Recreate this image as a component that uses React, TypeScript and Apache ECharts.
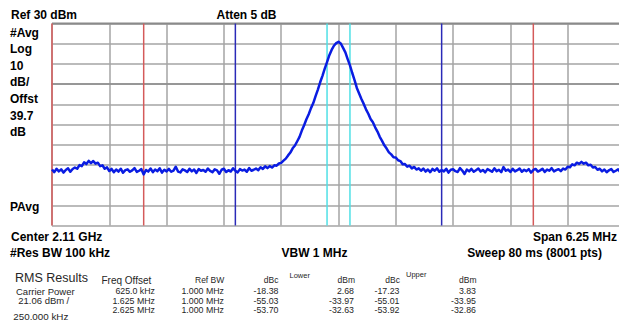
import React, { useEffect, useRef } from "react";
import * as echarts from "echarts";

// ---- Spectrum analyser settings ----
const REF_LEVEL = 30; // dBm (top of screen)
const BOTTOM_LEVEL = -70; // dBm (bottom of screen)
const DB_PER_DIV = 10;
const SPAN_START = -3.125; // MHz offset from centre 2.11 GHz
const SPAN_END = 3.125;
const FREQ_PER_DIV = 0.625;
const F_STEP = 0.025; // MHz between listed trace points

// ---- Trace (dBm), one value per F_STEP from SPAN_START ----
const TRACE_LEVELS = [
  // -3.125 .. -2.9
  -42.3, -43.6, -41.9, -43.2, -42.2, -43.8, -42.5, -41.7, -43.4, -42.0,
  // lower bump
  -41.3, -41.9, -40.1, -40.6, -38.7, -39.6, -38.0, -39.1, -38.1, -39.4,
  -38.9, -40.6, -40.2, -41.9, -41.2, -43.0, -42.0,
  // floor
  -43.6, -42.3, -43.3, -41.9, -43.9, -42.6, -42.2, -43.4, -42.7, -41.6,
  -43.5, -42.9, -42.1, -44.7, -42.5, -43.3, -41.8, -43.6, -42.3, -43.1,
  -41.7, -43.8, -42.4, -43.2, -42.0, -43.4, -42.8, -40.9, -43.3, -43.7,
  -42.2, -42.7, -43.5, -41.9, -43.2, -42.3, -44.0, -42.1, -42.9, -42.5,
  -43.4, -41.8, -43.0, -43.6, -42.2, -42.7, -44.4, -42.4, -41.9, -43.5,
  -42.6, -43.3, -41.7, -42.9, -43.7, -42.1, -42.8, -42.3, -43.4, -41.6,
  -42.9, -42.4,
  // carrier skirt and peak (-0.9 .. +0.9)
  -41.8, -42.6, -41.2, -42.0, -40.7, -41.6, -40.6, -41.3, -40.2, -40.4,
  -39.3, -39.0, -37.9, -36.9, -35.3, -33.9, -31.8, -30.4, -28.3, -26.1,
  -23.0, -20.4, -17.4, -14.9, -11.9, -9.4, -6.0, -2.7, 0.9, 4.1,
  7.7, 10.9, 14.3, 16.9, 19.0, 20.3, 20.9, 20.1, 17.9, 15.7,
  12.4, 9.3, 5.5, 2.0, -1.9, -4.6, -7.4, -9.8, -12.5, -14.7,
  -17.3, -18.9, -21.4, -23.5, -26.1, -28.1, -30.3, -31.9, -33.8, -34.8,
  -36.2, -36.3, -37.7, -38.1, -39.7, -39.6, -40.9, -40.4, -41.7, -41.0,
  -42.3, -41.7, -42.9,
  // floor
  -41.8, -43.3, -42.3, -43.6, -42.0, -42.9, -41.7, -43.4, -42.5, -43.2,
  -41.9, -43.8, -42.4, -42.2, -43.1, -43.5, -41.6, -42.8, -44.5, -42.3,
  -43.2, -42.0, -43.4, -42.6, -41.8, -43.3, -42.5, -43.7, -42.1, -42.7,
  -43.4, -41.7, -43.1, -42.4, -43.6, -41.1, -42.9, -42.3, -43.5, -41.9,
  -43.2, -42.6, -41.8, -43.4, -42.4, -43.1, -42.1, -43.8, -42.5, -42.0,
  -43.3, -42.7, -41.9, -43.5, -42.3, -42.9, -41.6, -43.2, -42.6, -42.1,
  // upper bump
  -43.1, -41.8, -42.3, -40.9, -41.2, -39.7, -40.2, -38.9, -39.5, -38.5,
  -39.4, -38.9, -40.2, -39.9, -41.3, -41.0, -42.4, -41.9, -43.2,
  // floor to +3.125
  -42.3, -43.6, -42.7, -42.0, -43.5, -42.9, -42.2, -43.7, -42.5, -43.2,
];

// ---- Integration band edges (MHz offset) ----
const CYAN_MARKERS = [-0.125, 0.125];
const BLUE_MARKERS = [-1.125, 1.125];
const RED_MARKERS = [-3.125, -2.125, 2.125, 3.125];

// ---- Annotation texts ----
const LEFT_LABELS = ["#Avg", "Log", "10", "dB/", "Offst", "39.7", "dB"];
const OFFSETS = ["625.0 kHz", "1.625 MHz", "2.625 MHz"];
const REF_BWS = ["1.000 MHz", "1.000 MHz", "1.000 MHz"];
const LOWER_DBC = ["-18.38", "-55.03", "-53.70"];
const LOWER_DBM = ["2.68", "-33.97", "-32.63"];
const UPPER_DBC = ["-17.23", "-55.01", "-53.92"];
const UPPER_DBM = ["3.83", "-33.95", "-32.86"];

const FONT_FAMILY = '"Liberation Sans", Arial, sans-serif';
const TRACE_COLOR = "#0a1ce2";

function txt(
  text: string,
  x: number,
  y: number,
  opts: { size?: number; bold?: boolean; align?: string; fill?: string } = {}
) {
  const size = opts.size ?? 12;
  return {
    type: "text",
    x,
    y,
    silent: true,
    z: 10,
    style: {
      text,
      fill: opts.fill ?? "#000",
      font: `${opts.bold ? "bold " : ""}${size}px ${FONT_FAMILY}`,
      align: opts.align ?? "left",
      verticalAlign: "middle",
    },
  };
}

export default function App() {
  const ref = useRef<HTMLDivElement>(null);

  useEffect(() => {
    if (!ref.current) return;
    const chart = echarts.init(ref.current, undefined, { renderer: "svg" });

    const traceData = TRACE_LEVELS.map((v, i) => [SPAN_START + i * F_STEP, v]);
    const markerSeries = (list: number[], color: string, width: number) =>
      list.map((f) => ({
        type: "line",
        data: [
          [f, REF_LEVEL],
          [f, BOTTOM_LEVEL],
        ],
        symbol: "none",
        silent: true,
        clip: false,
        z: 2,
        lineStyle: { color, width },
      }));

    const rowY = [291, 300.7, 310];
    const tableFill = "#262626";
    const graphics: any[] = [
      txt("Ref 30 dBm", 11, 14.5, { bold: true }),
      txt("Atten 5 dB", 216.5, 14.5, { bold: true }),
      ...LEFT_LABELS.map((t, i) => txt(t, 10, 32.5 + i * 16.6, { bold: true })),
      txt("PAvg", 10, 206.7, { bold: true }),
      txt("Center 2.11 GHz", 11, 236.7, { bold: true }),
      txt("#Res BW 100 kHz", 10, 253.3, { bold: true }),
      txt("VBW 1 MHz", 281.5, 253.3, { bold: true }),
      txt("Span 6.25 MHz", 617, 236.7, { bold: true, align: "right" }),
      txt("Sweep 80 ms (8001 pts)", 602, 253.3, { bold: true, align: "right" }),
      // RMS results table
      txt("RMS Results", 15, 278.3, { size: 12.5, fill: tableFill }),
      txt("Freq Offset", 101.5, 280, { size: 10, fill: tableFill }),
      txt("Ref BW", 195, 280, { size: 8.5, fill: tableFill }),
      txt("dBc", 278.5, 280, { size: 8.5, fill: tableFill, align: "right" }),
      txt("Lower", 289.5, 275, { size: 7.5, fill: tableFill }),
      txt("dBm", 355, 280, { size: 8.5, fill: tableFill, align: "right" }),
      txt("dBc", 400, 280, { size: 8.5, fill: tableFill, align: "right" }),
      txt("Upper", 406, 274.5, { size: 7.5, fill: tableFill }),
      txt("dBm", 476.5, 280, { size: 8.5, fill: tableFill, align: "right" }),
      txt("Carrier Power", 16, rowY[0], { size: 9.5, fill: tableFill }),
      txt("21.06 dBm", 18.3, rowY[1], { size: 9.5, fill: tableFill }),
      txt("/", 66.5, rowY[1], { size: 9.5, fill: tableFill }),
      txt("250.000 kHz", 13.3, 316.7, { size: 9.8, fill: tableFill }),
      ...OFFSETS.map((t, i) => txt(t, 155, rowY[i], { size: 8.8, fill: tableFill, align: "right" })),
      ...REF_BWS.map((t, i) => txt(t, 224, rowY[i], { size: 8.8, fill: tableFill, align: "right" })),
      ...LOWER_DBC.map((t, i) => txt(t, 278.5, rowY[i], { size: 8.8, fill: tableFill, align: "right" })),
      ...LOWER_DBM.map((t, i) => txt(t, 354, rowY[i], { size: 8.8, fill: tableFill, align: "right" })),
      ...UPPER_DBC.map((t, i) => txt(t, 399.5, rowY[i], { size: 8.8, fill: tableFill, align: "right" })),
      ...UPPER_DBM.map((t, i) => txt(t, 476, rowY[i], { size: 8.8, fill: tableFill, align: "right" })),
    ];

    chart.setOption({
      animation: false,
      backgroundColor: "#ffffff",
      grid: {
        left: 52,
        top: 23.5,
        width: 573,
        height: 202,
        outerBoundsMode: "none",
        containLabel: false,
      },
      xAxis: {
        type: "value",
        min: SPAN_START,
        max: SPAN_END,
        interval: FREQ_PER_DIV,
        axisLabel: { show: false },
        axisTick: { show: false },
        axisLine: { show: true, lineStyle: { color: "#8c8c8c", width: 1.5 } },
        splitLine: { show: true, lineStyle: { color: "#a4a4a4", width: 1.5 } },
      },
      yAxis: {
        type: "value",
        min: BOTTOM_LEVEL,
        max: REF_LEVEL,
        interval: DB_PER_DIV,
        axisLabel: { show: false },
        axisTick: { show: false },
        axisLine: { show: false },
        splitLine: { show: true, lineStyle: { color: "#a4a4a4", width: 1.5 } },
      },
      series: [
        {
          type: "line",
          data: [
            [SPAN_START, REF_LEVEL],
            [SPAN_END, REF_LEVEL],
          ],
          symbol: "none",
          silent: true,
          clip: false,
          z: 1,
          lineStyle: { color: "#8a8a8a", width: 2 },
        },
        ...markerSeries(CYAN_MARKERS, "#4fe0e6", 1.5),
        ...markerSeries(BLUE_MARKERS, "#2a2ab8", 1.5),
        ...markerSeries(RED_MARKERS, "#d45a5a", 1.5),
        {
          type: "line",
          data: traceData,
          symbol: "none",
          silent: true,
          z: 5,
          lineStyle: { color: TRACE_COLOR, width: 2.5, join: "round" },
        },
      ],
      graphic: graphics,
    });

    return () => chart.dispose();
  }, []);

  return (
    <div
      style={{
        position: "absolute",
        left: 0,
        top: 0,
        width: 619,
        height: 329,
        overflow: "hidden",
        background: "#fff",
      }}
    >
      <div ref={ref} style={{ width: 630, height: 329 }} />
    </div>
  );
}
